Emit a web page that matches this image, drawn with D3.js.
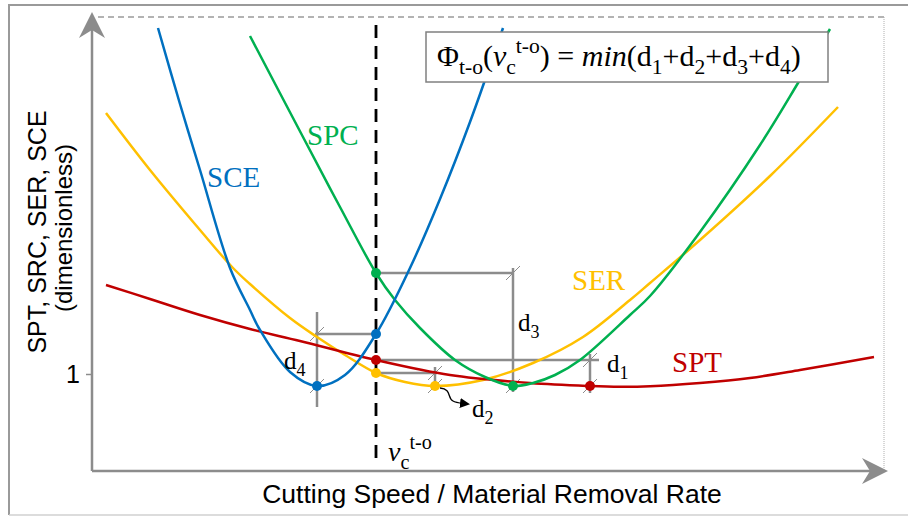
<!DOCTYPE html>
<html>
<head>
<meta charset="utf-8">
<script src="https://cdn.jsdelivr.net/npm/d3@7"></script>
<style>
  html, body { margin: 0; padding: 0; background: #fff; }
  svg { display: block; }
</style>
</head>
<body>
<svg id="chart" width="908" height="519"></svg>
<script>
// ---------- data (dimensionless, x: 0..99, y: value) ----------
const sptX = [1.75, 7.25, 13.5, 19.75, 26, 35.5, 44.75, 54.75, 62.25, 66, 69.75, 76, 82.25, 88.5, 97.75];
const sptY = [1.356, 1.30, 1.236, 1.18, 1.132, 1.056, 0.996, 0.964, 0.952, 0.949, 0.951, 0.964, 0.984, 1.016, 1.068];

const sceX = [8.25, 11, 13.5, 17.25, 19.75, 21, 24.75, 28.125, 31.625, 35.5, 39.75, 43.5, 47.25, 51.375];
const sceY = [2.384, 2.08, 1.816, 1.424, 1.256, 1.176, 1.008, 0.952, 0.996, 1.16, 1.424, 1.70, 2.008, 2.384];

const spcX = [19.75, 26.375, 31, 35.5, 37.875, 41, 45.375, 49.125, 52.625, 55.125, 57.875, 61, 67.25, 69.75, 76, 83.5, 88.25, 92.25];
const spcY = [2.352, 1.948, 1.668, 1.404, 1.296, 1.184, 1.056, 0.988, 0.952, 0.964, 0.996, 1.056, 1.236, 1.312, 1.568, 1.916, 2.164, 2.38];

const serX = [1.75, 7.25, 13.5, 17.625, 19.75, 24.75, 28.125, 31.625, 35.5, 39.125, 42.875, 48.875, 55.125, 61.375, 67.25, 69.75, 76, 84.75, 93.25];
const serY = [2.044, 1.816, 1.576, 1.424, 1.36, 1.224, 1.148, 1.076, 1.004, 0.968, 0.952, 0.976, 1.044, 1.148, 1.296, 1.364, 1.536, 1.792, 2.068];

const seriesNames = ["SCE", "SPC", "SER", "SPT"];
const vOpt = 35.5;                       // trade-off cutting speed
const optY = [1.16, 1.404, 1.004, 1.056]; // SCE, SPC, SER, SPT at vOpt
const minX = [28.125, 52.625, 42.875, 62.25]; // minima of SCE, SPC, SER, SPT
const minY = [0.952, 0.952, 0.952, 0.952];
const yTicks = [1];
const xTitle = "Cutting Speed / Material Removal Rate";
const yTitle1 = "SPT, SRC, SER, SCE";
const yTitle2 = "(dimensionless)";

// ---------- layout ----------
const svg = d3.select("#chart");
const L = 92, R = 884, T = 17, B = 471;
const x = d3.scaleLinear().domain([0, 99]).range([L, R]);
const y = d3.scaleLinear().domain([0.612, 2.428]).range([B, T]);

const colors = { SCE: "#0070C0", SPC: "#00B050", SER: "#FFC000", SPT: "#C00000" };
const gray = "#8c8c8c";

// outer frame
svg.append("line").attr("x1", 9).attr("y1", 5).attr("x2", 908).attr("y2", 5).attr("stroke", "#9a9a9a").attr("stroke-width", 2);
svg.append("line").attr("x1", 9).attr("y1", 4).attr("x2", 9).attr("y2", 515).attr("stroke", "#9a9a9a").attr("stroke-width", 2);
svg.append("line").attr("x1", 9).attr("y1", 515).attr("x2", 908).attr("y2", 515).attr("stroke", "#d0d0d0").attr("stroke-width", 1.5);

// dashed top and dotted right border of plot area
svg.append("line").attr("x1", L + 6).attr("y1", T).attr("x2", R).attr("y2", T)
  .attr("stroke", "#9a9a9a").attr("stroke-width", 1.5).attr("stroke-dasharray", "6,4");
svg.append("line").attr("x1", R).attr("y1", T).attr("x2", R).attr("y2", B)
  .attr("stroke", "#b0b0b0").attr("stroke-width", 1).attr("stroke-dasharray", "1,1");

// axes with arrows
svg.append("line").attr("x1", L).attr("y1", B).attr("x2", L).attr("y2", 24).attr("stroke", gray).attr("stroke-width", 2.5);
svg.append("path").attr("d", `M${L},12 L${L + 13},38 L${L},30 L${L - 13},38 Z`).attr("fill", gray);
svg.append("line").attr("x1", L).attr("y1", B).attr("x2", 878).attr("y2", B).attr("stroke", gray).attr("stroke-width", 2.5);
svg.append("path").attr("d", `M888,${B} L862,${B - 13} L870,${B} L862,${B + 13} Z`).attr("fill", gray);

// y tick via axis
const yAxis = svg.append("g").attr("transform", `translate(${L},0)`)
  .call(d3.axisLeft(y).tickValues(yTicks).tickSize(6).tickPadding(6).tickFormat(d3.format("d")));
yAxis.select(".domain").remove();
yAxis.selectAll(".tick line").attr("stroke", gray).attr("stroke-width", 1.5);
yAxis.selectAll(".tick text").attr("font-family", "Liberation Sans, Arial, sans-serif").attr("font-size", 25).attr("fill", "#000");

// axis titles
svg.append("text").attr("transform", "translate(46,232) rotate(-90)").attr("text-anchor", "middle")
  .attr("font-family", "Liberation Sans, Arial, sans-serif").attr("font-size", 25).text(yTitle1);
svg.append("text").attr("transform", "translate(72,228) rotate(-90)").attr("text-anchor", "middle")
  .attr("font-family", "Liberation Sans, Arial, sans-serif").attr("font-size", 24).text(yTitle2);
svg.append("text").attr("x", 492).attr("y", 503).attr("text-anchor", "middle")
  .attr("font-family", "Liberation Sans, Arial, sans-serif").attr("font-size", 26.5).text(xTitle);

// ---------- brackets (d1..d4) ----------
const br = svg.append("g").attr("stroke", gray).attr("stroke-width", 2.5).attr("fill", "none");
function seg(x1, y1, x2, y2) { br.append("line").attr("x1", x1).attr("y1", y1).attr("x2", x2).attr("y2", y2); }
// d4 (SCE)
seg(x(minX[0]), y(optY[0]) - 22, x(minX[0]), y(minY[0]) + 21);
seg(x(minX[0]) - 2, y(optY[0]), x(vOpt), y(optY[0]));
// d3 (SPC)
seg(x(minX[1]), y(optY[1]) - 5, x(minX[1]), y(minY[1]) + 6);
seg(x(vOpt), y(optY[1]), x(minX[1]), y(optY[1]));
// d1 (SPT)
seg(x(vOpt), y(optY[3]), x(minX[3]) + 9, y(optY[3]));
seg(x(minX[3]), y(optY[3]) - 6, x(minX[3]), y(minY[3]) + 7);
// d2 (SER)
seg(x(vOpt), y(optY[2]), x(minX[2]) + 2, y(optY[2]));
seg(x(minX[2]), y(optY[2]) - 6, x(minX[2]), y(minY[2]) + 2);

// slash marks at bracket ends
const slashPts = [
  [minX[0], optY[0]], [minX[0], minY[0]],
  [minX[1], optY[1]], [minX[1], minY[1]],
  [minX[3], optY[3]], [minX[3], minY[3]],
  [minX[2], optY[2]], [minX[2], minY[2]]
];
svg.append("g").selectAll("line").data(slashPts).join("line")
  .attr("x1", d => x(d[0]) - 7).attr("y1", d => y(d[1]) + 7)
  .attr("x2", d => x(d[0]) + 7).attr("y2", d => y(d[1]) - 7)
  .attr("stroke", gray).attr("stroke-width", 1);

// ---------- curves ----------
const line = d3.line().x(d => x(d[0])).y(d => y(d[1])).curve(d3.curveCatmullRom.alpha(0.5));
const series = [
  { name: "SER", xs: serX, ys: serY },
  { name: "SPT", xs: sptX, ys: sptY },
  { name: "SPC", xs: spcX, ys: spcY },
  { name: "SCE", xs: sceX, ys: sceY }
];
series.forEach(s => {
  svg.append("path").datum(s.xs.map((v, i) => [v, s.ys[i]]))
    .attr("d", line).attr("fill", "none").attr("stroke", colors[s.name]).attr("stroke-width", 2.5);
});

// dashed optimum line
svg.append("line").attr("x1", x(vOpt)).attr("y1", 25).attr("x2", x(vOpt)).attr("y2", 465)
  .attr("stroke", "#000").attr("stroke-width", 2.8).attr("stroke-dasharray", "13,8");

// dots
const dots = [];
seriesNames.forEach((n, i) => { dots.push({ n, x: vOpt, y: optY[i] }); dots.push({ n, x: minX[i], y: minY[i] }); });
svg.append("g").selectAll("circle").data(dots).join("circle")
  .attr("cx", d => x(d.x)).attr("cy", d => y(d.y)).attr("r", 5).attr("fill", d => colors[d.n]);

// ---------- text helpers ----------
function rich(parent, x0, y0, size, parts, color) {
  const t = parent.append("text").attr("x", x0).attr("y", y0)
    .attr("font-family", "Liberation Serif, Times New Roman, serif").attr("font-size", size).attr("fill", color || "#000");
  let cur = 0;
  parts.forEach(p => {
    const off = p.sub ? size * 0.28 : p.sup ? -size * 0.42 : 0;
    const ts = t.append("tspan").attr("dy", off - cur).text(p.t);
    if (p.sub || p.sup) ts.attr("font-size", size * 0.72);
    if (p.it) ts.attr("font-style", "italic");
    cur = off;
  });
  return t;
}

// curve labels
rich(svg, 207, 187, 29, [{ t: "SCE" }], colors.SCE);
rich(svg, 307, 145, 29, [{ t: "SPC" }], colors.SPC);
rich(svg, 572, 290, 29, [{ t: "SER" }], colors.SER);
rich(svg, 672, 372, 29, [{ t: "SPT" }], colors.SPT);

// d labels
rich(svg, 284, 369, 25, [{ t: "d" }, { t: "4", sub: true }]);
rich(svg, 518, 331, 25, [{ t: "d" }, { t: "3", sub: true }]);
rich(svg, 607, 372, 25, [{ t: "d" }, { t: "1", sub: true }]);
rich(svg, 472, 417, 25, [{ t: "d" }, { t: "2", sub: true }]);

// vc label
rich(svg, 388, 461, 28, [{ t: "v", it: true }, { t: "c", sub: true }, { t: "t-o", sup: true }]);

// d2 pointer arrow
svg.append("defs").append("marker").attr("id", "ah").attr("viewBox", "0 0 10 10").attr("refX", 8).attr("refY", 5)
  .attr("markerWidth", 10).attr("markerHeight", 10).attr("markerUnits", "userSpaceOnUse").attr("orient", "auto")
  .append("path").attr("d", "M0,0 L10,5 L0,10 Z").attr("fill", "#000");
svg.append("path").attr("d", "M440,388 C452,389 447,398 453,401 C456,403 460,403 468,404")
  .attr("fill", "none").attr("stroke", "#000").attr("stroke-width", 1.3).attr("marker-end", "url(#ah)");

// formula box
svg.append("rect").attr("x", 426).attr("y", 32).attr("width", 402).attr("height", 50)
  .attr("fill", "#fff").attr("stroke", "#808080").attr("stroke-width", 1.5);
rich(svg, 437, 66, 30, [
  { t: "Φ" }, { t: "t-o", sub: true }, { t: "(" }, { t: "v", it: true }, { t: "c", sub: true }, { t: "t-o", sup: true },
  { t: ") = " }, { t: "min", it: true }, { t: "(d" }, { t: "1", sub: true }, { t: "+d" }, { t: "2", sub: true },
  { t: "+d" }, { t: "3", sub: true }, { t: "+d" }, { t: "4", sub: true }, { t: ")" }
]);
</script>
</body>
</html>
